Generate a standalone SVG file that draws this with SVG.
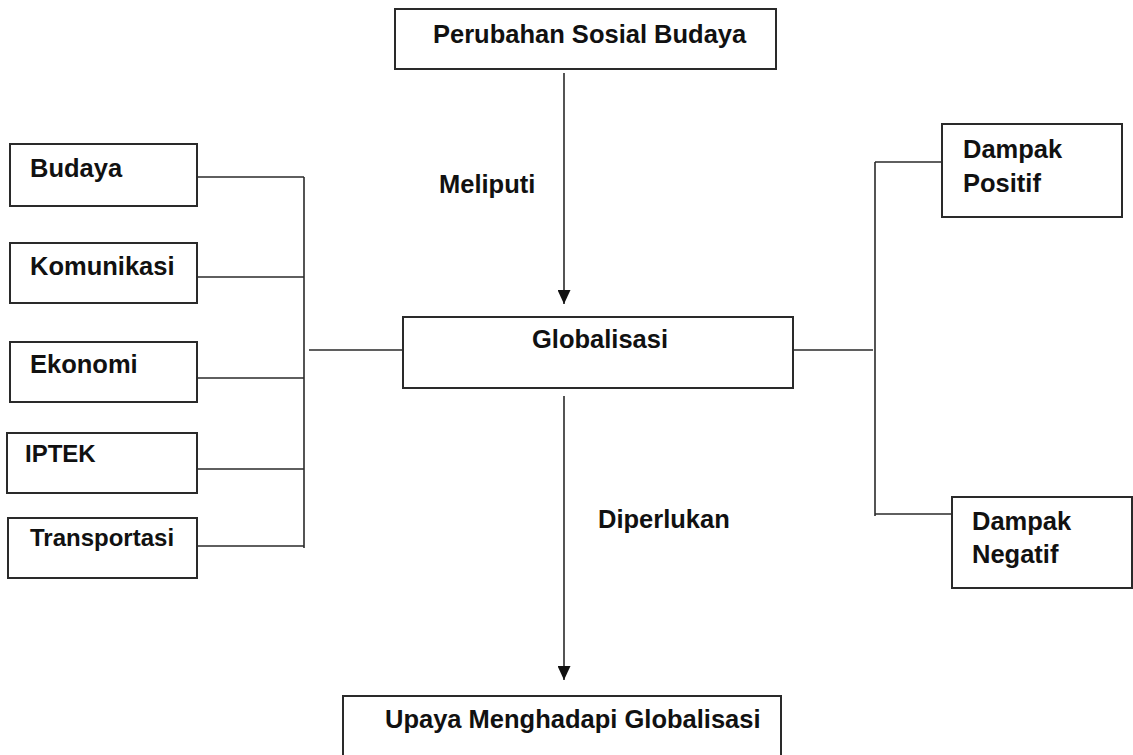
<svg xmlns="http://www.w3.org/2000/svg" width="1133" height="755" viewBox="0 0 1133 755">
<defs>
<style>
.box{fill:#fff;stroke:#2a2a2a;stroke-width:2}
.t{font-family:"Liberation Sans",Arial,sans-serif;font-weight:bold;font-size:25.5px;fill:#111}
.s{font-size:24px}
.ln{fill:none;stroke:#2a2a2a;stroke-width:1.6}
</style>
<marker id="ah" viewBox="0 0 14 13" refX="14" refY="6.5" markerWidth="14" markerHeight="13" markerUnits="userSpaceOnUse" orient="auto">
<path d="M0,0 L14,6.5 L0,13 Z" fill="#111"/>
</marker>
</defs>
<rect width="1133" height="755" fill="#fff"/>
<g id="connectors">
<line class="ln" x1="564" y1="73" x2="564" y2="304" marker-end="url(#ah)"/>
<line class="ln" x1="564" y1="396" x2="564" y2="680" marker-end="url(#ah)"/>
<line class="ln" x1="197" y1="177" x2="304" y2="177"/>
<line class="ln" x1="197" y1="277" x2="304" y2="277"/>
<line class="ln" x1="197" y1="378" x2="304" y2="378"/>
<line class="ln" x1="197" y1="469" x2="304" y2="469"/>
<line class="ln" x1="197" y1="546" x2="304" y2="546"/>
<line class="ln" x1="304" y1="177" x2="304" y2="548"/>
<line class="ln" x1="309" y1="350" x2="403" y2="350"/>
<line class="ln" x1="793" y1="350" x2="873" y2="350"/>
<line class="ln" x1="875" y1="162" x2="875" y2="516" stroke="#555"/>
<line class="ln" x1="875" y1="162" x2="942" y2="162"/>
<line class="ln" x1="875" y1="514" x2="952" y2="514"/>
</g>
<g id="perubahan"><rect class="box" x="395" y="9" width="381" height="60"/><text class="t" x="433" y="43">Perubahan Sosial Budaya</text></g>
<g id="meliputi"><text class="t" x="439" y="193">Meliputi</text></g>
<g id="globalisasi"><rect class="box" x="403" y="317" width="390" height="71"/><text class="t" x="532" y="348">Globalisasi</text></g>
<g id="diperlukan"><text class="t" x="598" y="528">Diperlukan</text></g>
<g id="upaya"><rect class="box" x="343" y="696" width="438" height="64"/><text class="t" x="385" y="728">Upaya Menghadapi Globalisasi</text></g>
<g id="budaya"><rect class="box" x="10" y="144" width="187" height="62"/><text class="t" x="30" y="177">Budaya</text></g>
<g id="komunikasi"><rect class="box" x="10" y="243" width="187" height="60"/><text class="t" x="30" y="275">Komunikasi</text></g>
<g id="ekonomi"><rect class="box" x="10" y="342" width="187" height="60"/><text class="t" x="30" y="373">Ekonomi</text></g>
<g id="iptek"><rect class="box" x="7" y="433" width="190" height="60"/><text class="t s" x="25" y="462">IPTEK</text></g>
<g id="transportasi"><rect class="box" x="8" y="518" width="189" height="60"/><text class="t s" x="30" y="546">Transportasi</text></g>
<g id="positif"><rect class="box" x="942" y="124" width="180" height="93"/><text class="t" x="963" y="158">Dampak</text><text class="t" x="963" y="192">Positif</text></g>
<g id="negatif"><rect class="box" x="952" y="497" width="180" height="91"/><text class="t" x="972" y="530">Dampak</text><text class="t" x="972" y="563">Negatif</text></g>
</svg>
